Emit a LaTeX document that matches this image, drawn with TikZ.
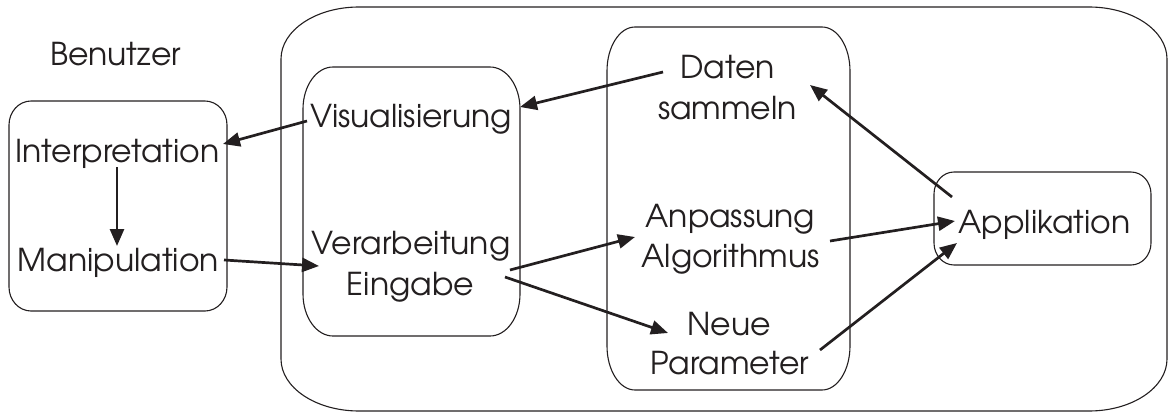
\documentclass[tikz,border=0pt]{standalone}
\usepackage{fontspec}
\setmainfont{TeX Gyre Adventor}
\usetikzlibrary{arrows.meta,calc}

% frame with elliptical corners: [style]{x1}{y1}{x2}{y2}{rx}{ry}
\newcommand\ovalframe[7][]{%
  \draw[#1] ({#2+#6},#3) -- ({#4-#6},#3)
    .. controls ({#4-0.448*#6},#3) and (#4,{#3+0.448*#7}) .. (#4,{#3+#7})
    -- (#4,{#5-#7})
    .. controls (#4,{#5-0.448*#7}) and ({#4-0.448*#6},#5) .. ({#4-#6},#5)
    -- ({#2+#6},#5)
    .. controls ({#2+0.448*#6},#5) and (#2,{#5-0.448*#7}) .. (#2,{#5-#7})
    -- (#2,{#3+#7})
    .. controls (#2,{#3+0.448*#7}) and ({#2+0.448*#6},#3) .. cycle;}

\definecolor{ink}{HTML}{231F20}
\tikzset{
  frame/.style={line width=1.1pt, draw=ink},
  label/.style={anchor=base, inner sep=0pt, font=\fontsize{31.5}{38}\selectfont, text=ink},
  flow/.style={line width=2.7pt, draw=ink, -{Triangle[length=17pt,width=14pt]}},
}

\begin{document}
\begin{tikzpicture}[x=1pt, y=-1pt]
\useasboundingbox (0,0) rectangle (1168,412);

% frames
\ovalframe[frame]{281}{7}{1167}{411}{78}{52}
\ovalframe[frame]{9}{101}{227}{311}{22}{24}
\ovalframe[frame]{303}{67}{520}{336}{30}{42}
\ovalframe[frame]{607}{27}{850}{390}{28}{44}
\ovalframe[frame]{934}{172}{1151}{265}{20}{22}

% labels
\node[label] (benutzer) at (115.5,66) {Benutzer};
\node[label] (interp)   at (117.5,162) {Interpretation};
\node[label] (manip)    at (118.5,271) {Manipulation};
\node[label] (visu)     at (411,127) {Visualisierung};
\node[label] (verarb)   at (411,254) {Verarbeitung};
\node[label] (eingabe)  at (410.5,295) {Eingabe};
\node[label] (daten)    at (727.5,78) {Daten};
\node[label] (sammeln)  at (727.5,119) {sammeln};
\node[label] (anpass)   at (730,227) {Anpassung};
\node[label] (algo)     at (730.5,267) {Algorithmus};
\node[label] (neue)     at (729,335) {Neue};
\node[label] (param)    at (730,374) {Parameter};
\node[label] (appl)     at (1044.5,233) {Applikation};

% connectors
\draw[flow] ($(visu.base)+(-104,-6)$) -- ($(interp.base)+(105.5,-18)$);
\draw[flow] ($(interp.base)+(-0.5,5)$) -- ($(manip.base)+(-1.5,-25)$);
\draw[flow] ($(manip.base)+(105.5,-11)$) -- ($(verarb.base)+(-92,12)$);
\draw[flow] ($(daten.base)+(-64.5,-6)$) -- ($(visu.base)+(109,-20)$);
\draw[flow] ($(appl.base)+(-92.5,-36)$) -- ($(daten.base)+(82.5,7)$);
\draw[flow] ($(algo.base)+(99.5,-26)$) -- ($(appl.base)+(-89.5,-12)$);
\draw[flow] ($(param.base)+(90,-24)$) -- ($(appl.base)+(-87.5,10)$);
\draw[flow] ($(eingabe.base)+(99.5,-25)$) -- ($(anpass.base)+(-95,10)$);
\draw[flow] ($(eingabe.base)+(94.5,-18)$) -- ($(neue.base)+(-61,-2)$);
\end{tikzpicture}
\end{document}
